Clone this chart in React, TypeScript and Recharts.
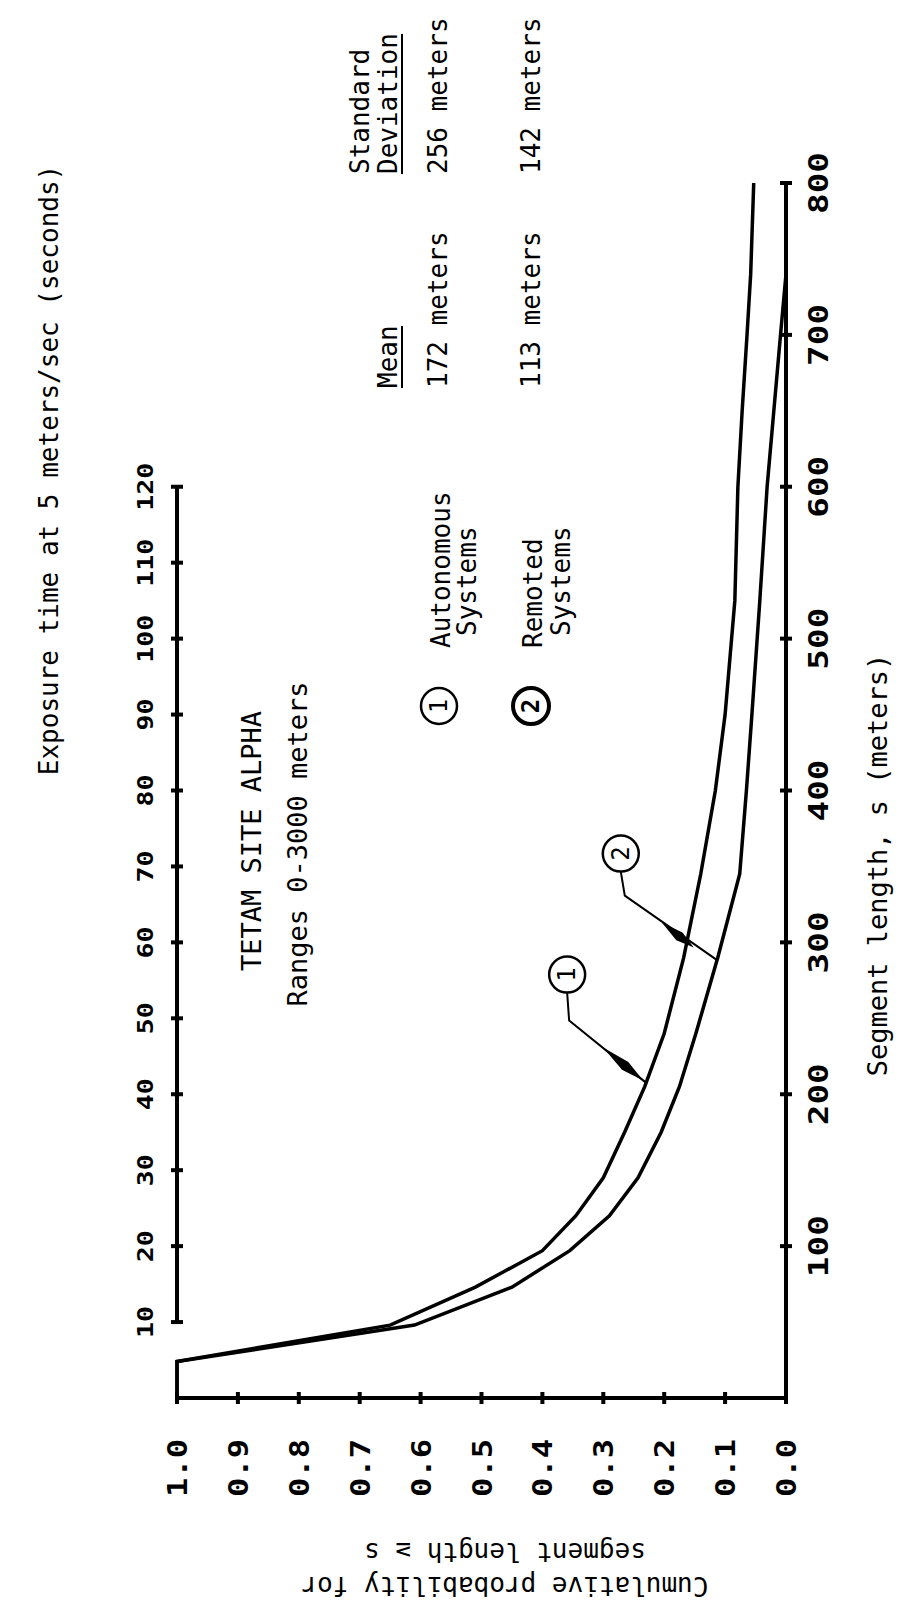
import React from 'react';
import {
  LineChart,
  Line,
  XAxis,
  YAxis,
  ReferenceLine,
  ReferenceDot,
} from 'recharts';

// segment length s (meters) at which the curves were read
const segmentLength = [0, 24, 48, 73, 97, 120, 145, 175, 205, 240, 290, 345, 400, 450, 525, 600, 650, 700, 740, 800];
// cumulative probability for segment length >= s
const autonomous = [1.0, 1.0, 0.65, 0.51, 0.4, 0.345, 0.3, 0.265, 0.232, 0.2, 0.168, 0.14, 0.116, 0.1, 0.084, 0.079, 0.072, 0.064, 0.058, 0.053];
const remoted = [1.0, 1.0, 0.61, 0.45, 0.355, 0.29, 0.243, 0.205, 0.175, 0.148, 0.112, 0.076, 0.065, 0.056, 0.043, 0.031, 0.02, 0.009, 0.0, 0.0];

const probTicks = [0, 0.1, 0.2, 0.3, 0.4, 0.5, 0.6, 0.7, 0.8, 0.9, 1.0];
const lengthTicks = [100, 200, 300, 400, 500, 600, 700, 800];
const exposureTicks = [10, 20, 30, 40, 50, 60, 70, 80, 90, 100, 110, 120];
const SPEED = 5; // meters/sec

const data = segmentLength.map((s, i) => ({
  s,
  autonomous: autonomous[i],
  remoted: remoted[i],
}));

const MONO = '"DejaVu Sans Mono", monospace';

function VText({ x, y, children, size = 26, anchor = 'start', bold = false, length }: any) {
  return (
    <text
      transform={`translate(${x},${y}) rotate(-90)`}
      textAnchor={anchor}
      fontFamily={MONO}
      fontSize={size}
      fontWeight={bold ? 'bold' : 'normal'}
      fill="#000"
      textLength={length}
      lengthAdjust={length ? 'spacingAndGlyphs' : undefined}
    >
      {children}
    </text>
  );
}

function ProbTick({ x, y, payload }: any) {
  return (
    <g>
      <line x1={x} y1={y - 6} x2={x} y2={y + 6} stroke="#000" strokeWidth={4} />
      <VText x={x + 10} y={y + 70} anchor="middle" size={26} bold length={58}>
        {Number(payload.value).toFixed(1)}
      </VText>
    </g>
  );
}

function LengthTick({ x, y, payload }: any) {
  return (
    <g>
      <line x1={x - 6} y1={y} x2={x + 6} y2={y} stroke="#000" strokeWidth={4} />
      <VText x={x + 42} y={y} anchor="middle" size={26} bold length={62}>
        {String(payload.value)}
      </VText>
    </g>
  );
}

function ExposureTick({ cx, cy, value }: any) {
  const label = String(value);
  return (
    <g>
      <line x1={cx - 6} y1={cy} x2={cx + 6} y2={cy} stroke="#000" strokeWidth={4} />
      <VText x={cx - 24} y={cy} anchor="middle" size={22} bold length={label.length * 16}>
        {label}
      </VText>
    </g>
  );
}

function wedge(ax: number, ay: number, bx: number, by: number, w: number) {
  const dx = bx - ax;
  const dy = by - ay;
  const len = Math.hypot(dx, dy);
  const nx = (-dy / len) * w;
  const ny = (dx / len) * w;
  const mx = ax + dx * 0.55;
  const my = ay + dy * 0.55;
  return `${ax},${ay} ${mx + nx},${my + ny} ${bx},${by} ${mx - nx},${my - ny}`;
}

function Callout({ cx, cy, label, bend, circle, wedgeFrom, wedgeTo }: any) {
  const bx = cx + bend[0];
  const by = cy + bend[1];
  const ccx = cx + circle[0];
  const ccy = cy + circle[1];
  return (
    <g>
      <polyline
        points={`${ccx},${ccy + 18} ${bx},${by} ${cx},${cy}`}
        fill="none"
        stroke="#000"
        strokeWidth={2}
      />
      <polygon
        points={wedge(cx + wedgeFrom[0], cy + wedgeFrom[1], cx + wedgeTo[0], cy + wedgeTo[1], 5)}
        fill="#000"
      />
      <circle cx={ccx} cy={ccy} r={18} fill="#fff" stroke="#000" strokeWidth={2.5} />
      <text
        transform={`translate(${ccx},${ccy}) rotate(-90)`}
        textAnchor="middle"
        dominantBaseline="central"
        fontFamily={MONO}
        fontSize={24}
      >
        {label}
      </text>
    </g>
  );
}

function Legend() {
  const circ = (x: number, y: number, n: string, w: number) => (
    <g>
      <circle cx={x} cy={y} r={18} fill="#fff" stroke="#000" strokeWidth={w} />
      <text
        transform={`translate(${x},${y}) rotate(-90)`}
        textAnchor="middle"
        dominantBaseline="central"
        fontFamily={MONO}
        fontSize={24}
        fontWeight={w > 3 ? 'bold' : 'normal'}
      >
        {n}
      </text>
    </g>
  );
  return (
    <svg
      width={904}
      height={1614}
      style={{ position: 'absolute', left: 0, top: 0, pointerEvents: 'none' }}
    >
      <VText x={58} y={470} anchor="middle" size={26}>
        Exposure time at 5 meters/sec (seconds)
      </VText>
      <VText x={261} y={841} anchor="middle" size={27}>
        TETAM SITE ALPHA
      </VText>
      <VText x={307} y={844} anchor="middle" size={27}>
        Ranges 0-3000 meters
      </VText>

      <VText x={369} y={174}>Standard</VText>
      <VText x={397} y={174}>Deviation</VText>
      <line x1={402} y1={174} x2={402} y2={34} stroke="#000" strokeWidth={2} />
      <VText x={397} y={388}>Mean</VText>
      <line x1={402} y1={388} x2={402} y2={326} stroke="#000" strokeWidth={2} />

      <VText x={450} y={648}>Autonomous</VText>
      <VText x={476} y={636}>Systems</VText>
      <VText x={542} y={648}>Remoted</VText>
      <VText x={570} y={636}>Systems</VText>
      <VText x={447} y={388}>172 meters</VText>
      <VText x={540} y={388}>113 meters</VText>
      <VText x={447} y={174}>256 meters</VText>
      <VText x={540} y={174}>142 meters</VText>
      {circ(439, 706, '1', 2.5)}
      {circ(531, 706, '2', 4)}

      <VText x={887} y={865} anchor="middle" size={27}>
        Segment length, s (meters)
      </VText>

      <text
        transform="translate(505,1577) rotate(180)"
        textAnchor="middle"
        fontFamily={MONO}
        fontSize={26}
      >
        Cumulative probability for
      </text>
      <text
        transform="translate(505,1543) rotate(180)"
        textAnchor="middle"
        fontFamily={MONO}
        fontSize={26}
      >
        segment length ≥ s
      </text>
    </svg>
  );
}

export default function App() {
  return (
    <div style={{ position: 'absolute', left: 0, top: 0, width: 904, height: 1614, background: '#fff' }}>
      <LineChart
        width={904}
        height={1614}
        layout="vertical"
        data={data}
        margin={{ top: 183, right: 0, bottom: 0, left: 177 }}
      >
        <XAxis
          type="number"
          domain={[0, 1]}
          reversed
          ticks={probTicks}
          interval={0}
          height={216}
          axisLine={{ stroke: '#000', strokeWidth: 4 }}
          tickLine={false}
          tickSize={0}
          tickMargin={0}
          tick={(p: any) => <ProbTick {...p} />}
        />
        <YAxis
          yAxisId="s"
          type="number"
          dataKey="s"
          orientation="right"
          reversed
          domain={[0, 800]}
          ticks={lengthTicks}
          interval={0}
          width={118}
          axisLine={{ stroke: '#000', strokeWidth: 4 }}
          tickLine={false}
          tickSize={0}
          tickMargin={0}
          tick={(p: any) => <LengthTick {...p} />}
        />
        <ReferenceLine
          yAxisId="s"
          segment={[
            { x: 1, y: exposureTicks[0] * SPEED },
            { x: 1, y: exposureTicks[exposureTicks.length - 1] * SPEED },
          ]}
          stroke="#000"
          strokeWidth={4}
        />
        {exposureTicks.map((t) => (
          <ReferenceDot
            key={t}
            yAxisId="s"
            x={1}
            y={t * SPEED}
            r={0}
            shape={(p: any) => <ExposureTick cx={p.cx} cy={p.cy} value={t} />}
          />
        ))}
        <Line
          yAxisId="s"
          dataKey="autonomous"
          type="linear"
          stroke="#000"
          strokeWidth={3.5}
          dot={false}
          isAnimationActive={false}
        />
        <Line
          yAxisId="s"
          dataKey="remoted"
          type="linear"
          stroke="#000"
          strokeWidth={3.5}
          dot={false}
          isAnimationActive={false}
        />
        <ReferenceDot
          yAxisId="s"
          x={0.228}
          y={207}
          r={0}
          shape={(p: any) => (
            <Callout
              cx={p.cx}
              cy={p.cy}
              label="1"
              bend={[-78, -63]}
              circle={[-80, -109]}
              wedgeFrom={[-44, -36]}
              wedgeTo={[-4, -3]}
            />
          )}
        />
        <ReferenceDot
          yAxisId="s"
          x={0.112}
          y={288}
          r={0}
          shape={(p: any) => (
            <Callout
              cx={p.cx}
              cy={p.cy}
              label="2"
              bend={[-93, -65]}
              circle={[-97, -107]}
              wedgeFrom={[-56, -38]}
              wedgeTo={[-24, -13]}
            />
          )}
        />
      </LineChart>
      <Legend />
    </div>
  );
}
